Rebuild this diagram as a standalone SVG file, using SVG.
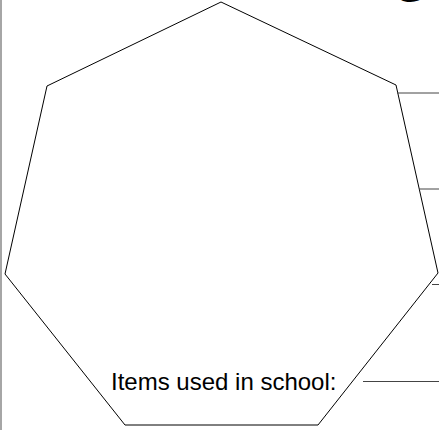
<svg xmlns="http://www.w3.org/2000/svg" width="439" height="430" viewBox="0 0 439 430">
<style>
.shape{fill:#fff;stroke:#000;stroke-width:1}
.ln{stroke:#444;stroke-width:1;fill:none}
.lbl{font-family:"Liberation Sans",Arial,sans-serif;font-size:24px;fill:#000}
</style>
<rect width="439" height="430" fill="#fff"/>
<g id="frame"><line x1="1" y1="0" x2="1" y2="430" stroke="#888" stroke-width="1.5"/></g>
<g id="title"><text x="391" y="2" class="lbl" style="font-size:48px">G</text></g>
<g id="heptagon"><polygon class="shape" points="221,2 396,85 438,273 318,425 125,425 5,274 47,86"/></g>
<g id="connectors">
<line class="ln" x1="397" y1="93" x2="439" y2="93"/>
<line class="ln" x1="419" y1="189" x2="439" y2="189"/>
<line class="ln" x1="432" y1="284.5" x2="439" y2="284.5"/>
<line class="ln" x1="363" y1="381.5" x2="439" y2="381.5"/>
</g>
<g id="label"><text class="lbl" x="111" y="390">Items used in school:</text></g>
</svg>
